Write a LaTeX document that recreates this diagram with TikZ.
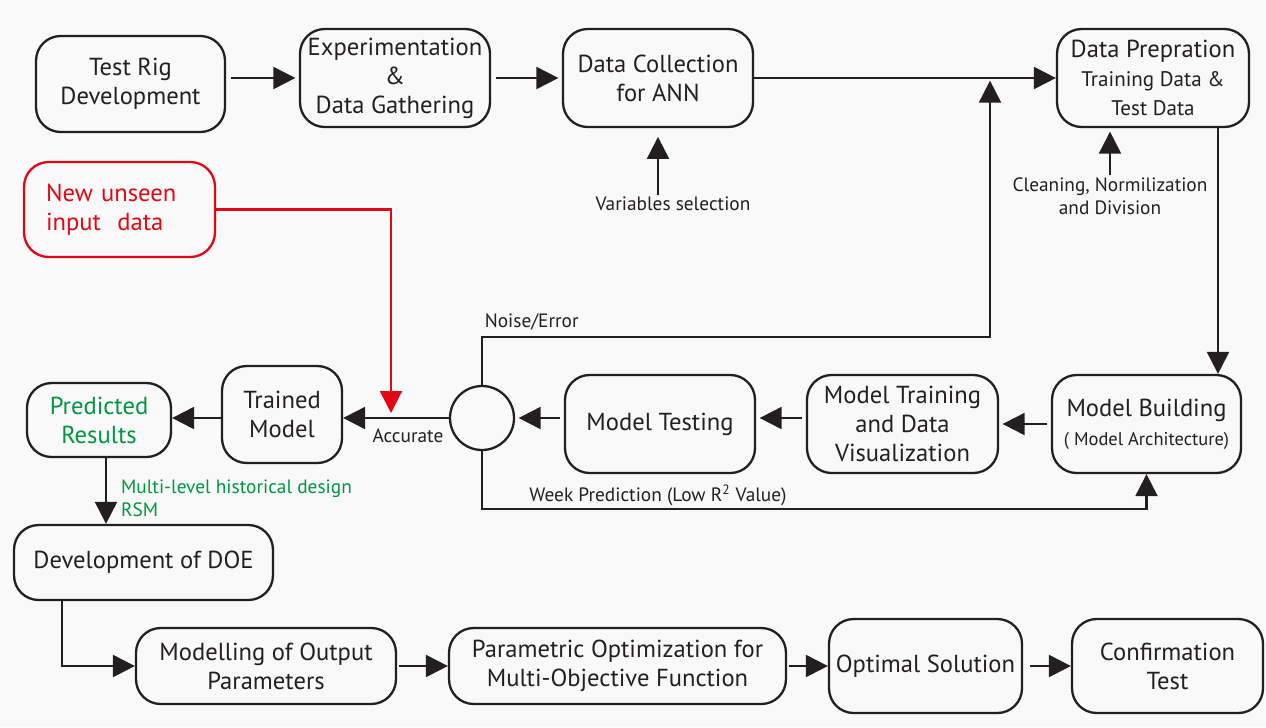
\documentclass[tikz,border=0pt]{standalone}
\usepackage{fontspec}
\setmainfont{PT Sans}
\usepackage{tikz}
\usetikzlibrary{arrows.meta}
\definecolor{trait}{RGB}{35,31,32}
\definecolor{vert}{RGB}{0,150,64}
\definecolor{rouge}{RGB}{227,6,19}
\definecolor{fond}{RGB}{249,249,249}
\newcommand{\moyen}{\fontsize{12}{14}\selectfont}
\newcommand{\menu}{\fontsize{10.5}{12}\selectfont}

\begin{document}
\begin{tikzpicture}[x=0.02cm,y=-0.02cm,
    boite/.style={draw=trait, line width=1.3pt, rounded corners=14pt, align=center, text=trait,
        font=\fontsize{14}{16.5}\selectfont, inner sep=1pt},
    fleche/.style={-{Triangle[length=12.5pt,width=12.5pt]}, line width=1.2pt, draw=trait},
    petit/.style={font=\fontsize{11}{13}\selectfont, text=trait, inner sep=1pt, align=center}]
    % fond
    \fill[fond] (0,0) rectangle (1266,727);

    % ligne du haut
    \node[boite, minimum width=3.78cm, minimum height=1.92cm] (rig) at (130.5,84) {Test Rig\\Development};
    \node[boite, minimum width=3.8cm, minimum height=1.96cm] (exper) at (395,78) {Experimentation\\\&\\Data Gathering};
    \node[boite, minimum width=3.8cm, minimum height=1.96cm] (coll) at (658,78) {Data Collection\\for ANN};
    \node[boite, minimum width=3.84cm, minimum height=1.96cm] (prep) at (1153,78) {Data Prepration\\\moyen Training Data \&\\\moyen Test Data};
    \node[petit] (varsel) at (673,204) {Variables selection};
    \node[petit] (clean) at (1110,196) {Cleaning, Normilization\\and Division};

    \draw[fleche, shorten <=3pt, shorten >=2pt] (rig.east |- exper.west) -- (exper.west);
    \draw[fleche, shorten <=3pt, shorten >=2pt] (exper.east) -- (coll.west);
    \draw[fleche] (coll.east) -- (prep.west);
    \draw[fleche, shorten >=5pt] (varsel.north -| coll.south) -- (coll.south);
    \draw[fleche, shorten >=2pt] (clean.north) -- (clean.north |- prep.south);

    % ligne du milieu
    \node[boite, draw=rouge, text=rouge, align=left, text width=2.94cm, inner xsep=0.44cm, minimum height=1.9cm] (newdata) at (119.5,209.5) {New unseen\\input\ \ data};
    \node[boite, minimum width=3.78cm, minimum height=1.96cm] (build) at (1146.5,424) {Model Building\\\menu ( Model Architecture)};
    \node[boite, minimum width=3.82cm, minimum height=1.96cm] (train) at (902.5,424) {Model Training\\and Data\\Visualization};
    \node[boite, minimum width=3.8cm, minimum height=1.96cm] (test) at (660,424) {Model Testing};
    \node[circle, draw=trait, line width=1.3pt, minimum size=1.28cm, inner sep=0pt] (juge) at (482,418) {};
    \node[boite, minimum width=2.4cm, minimum height=1.94cm] (trained) at (282,414.5) {Trained\\Model};
    \node[boite, text=vert, minimum width=2.88cm, minimum height=1.48cm] (pred) at (99,420) {Predicted\\Results};

    \coordinate (bas) at (1218,0);
    \draw[fleche] (prep.south -| bas) -- (build.north -| bas);

    \draw[fleche, shorten <=2pt, shorten >=2pt] (build.west) -- (train.east);
    \draw[fleche, shorten <=2pt, shorten >=2pt] (train.west |- juge.east) -- (test.east |- juge.east);
    \draw[fleche, shorten <=2pt, shorten >=2pt] (test.west |- juge.east) -- (juge.east);
    \draw[fleche] (juge.west) -- (juge.west -| trained.east);
    \draw[fleche] (trained.west |- juge.west) -- (pred.east |- juge.west);
    \node[petit] (ok) at (408,436) {Accurate};

    % retour bruit / erreur
    \coordinate (fb) at (990,337);
    \draw[fleche, shorten >=1.5pt] (juge.north) |- (fb) node[petit, pos=0.5, anchor=south west, yshift=2pt] (noise) {Noise/Error} -- (fb |- coll.east);
    % prediction faible
    \coordinate (wk) at (482,509);
    \draw[fleche] (juge.south) -- (wk) -| (build.south);
    \node[petit] (wklbl) at (658,495) {Week Prediction (Low R\textsuperscript{2} Value)};

    % donnees nouvelles
    \coordinate (rd) at (391,413);
    \draw[fleche, draw=rouge] (newdata.east) -| (rd);

    % ligne du bas
    \node[boite, minimum width=5.18cm, minimum height=1.5cm] (doe) at (143.5,562.5) {Development of DOE};
    \node[boite, minimum width=5.2cm, minimum height=1.52cm] (model) at (266,666) {Modelling of Output\\Parameters};
    \node[boite, minimum width=6.74cm, minimum height=1.52cm] (optim) at (617.5,666) {Parametric Optimization for\\Multi-Objective Function};
    \node[boite, minimum width=3.86cm, minimum height=1.88cm] (sol) at (925.5,666) {Optimal Solution};
    \node[boite, minimum width=3.82cm, minimum height=1.88cm] (conf) at (1167.5,666) {Confirmation\\Test};
    \node[petit, text=vert, align=left, anchor=west] (rsm) at (119,498) {Multi-level historical design\\RSM};

    \coordinate (gx) at (106,0);
    \draw[fleche] (pred.south -| gx) -- (doe.north -| gx);
    \coordinate (dx) at (62,0);
    \draw[fleche] (doe.south -| dx) |- (model.west);
    \draw[fleche, shorten <=1pt] (model.east) -- (optim.west);
    \draw[fleche, shorten <=1pt] (optim.east) -- (sol.west);
    \draw[fleche, shorten <=4pt] (sol.east) -- (conf.west);
\end{tikzpicture}
\end{document}
